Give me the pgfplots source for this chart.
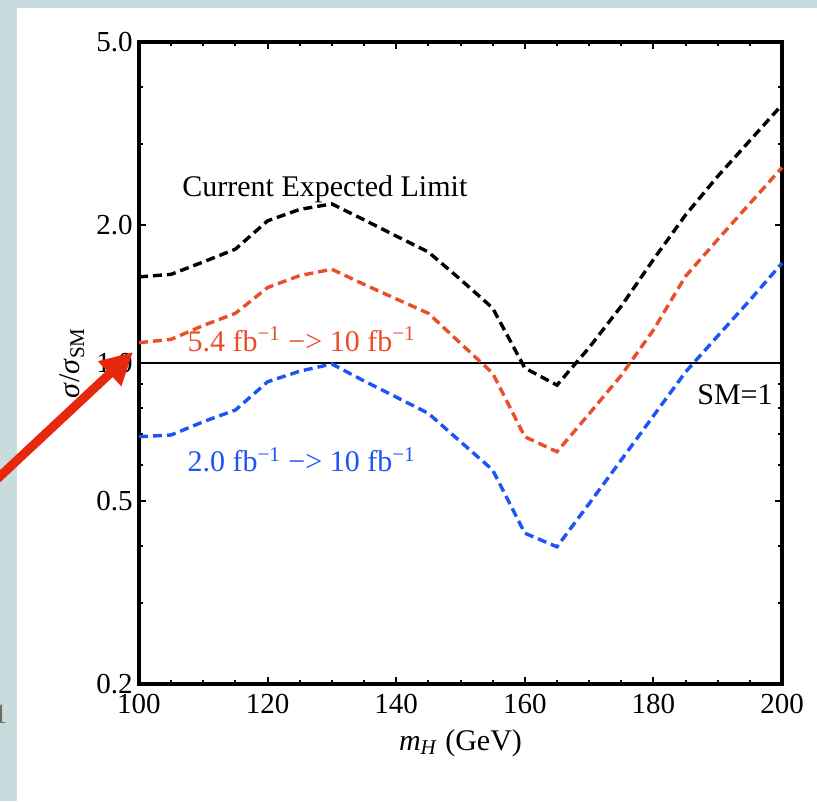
\documentclass[border=0pt]{standalone}
\usepackage{fontspec}
\setmainfont{Liberation Serif}
\usepackage{pgfplots}
\pgfplotsset{compat=1.18}
\usetikzlibrary{arrows.meta}

\definecolor{bgteal}{RGB}{200,220,222}
\definecolor{limred}{RGB}{234,78,42}
\definecolor{limblue}{RGB}{28,84,247}
\definecolor{arrowred}{RGB}{230,40,12}
\definecolor{slidegray}{RGB}{110,110,100}

\begin{document}
\begin{tikzpicture}
% slide background and white panel (1px = 0.5pt)
\fill[bgteal] (0,0) rectangle (408.5pt,-400.5pt);
\useasboundingbox (0,0) rectangle (408.5pt,-400.5pt);
\fill[white] (8.5pt,-4pt) rectangle (408.5pt,-400.5pt);
\node[anchor=east, text=slidegray, font=\fontsize{14}{14}\selectfont, inner sep=0pt] at (4pt,-357pt) {1};

\begin{axis}[
    at={(69.5pt,-342pt)}, anchor=south west,
    scale only axis, width=321.5pt, height=321pt,
    xmin=100, xmax=200,
    ymode=log, ymin=0.2, ymax=5,
    axis line style={line width=1.9pt},
    every tick/.style={black, line width=1pt},
    tick align=inside,
    major tick length=3.6pt, minor tick length=2.2pt,
    xtick={100,120,140,160,180,200},
    xticklabels={100,120,140,160,180,200},
    minor xtick={105,110,115,125,130,135,145,150,155,165,170,175,185,190,195},
    ytick={0.2,0.5,1,2,5},
    yticklabels={0.2,0.5,1.0,2.0,5.0},
    minor ytick={0.3,0.4,0.6,0.7,0.8,0.9,3,4},
    tick label style={font=\fontsize{14.5}{14.5}\selectfont, inner sep=0pt},
    xticklabel style={yshift=-5pt},
    yticklabel style={xshift=-3pt},
    xlabel={\textit{m}\textsubscript{\textit{H}} (GeV)},
    ylabel={\textit{σ}/\textit{σ}\textsubscript{SM}},
    label style={font=\fontsize{15}{15}\selectfont},
    xlabel style={at={(axis description cs:0.5,-0.092)}, anchor=center},
    ylabel style={at={(axis description cs:-0.104,0.5)}, anchor=center},
    clip=false,
]
% SM = 1
\addplot[black, line width=1.4pt] coordinates {(100,1) (200,1)};

% current expected limit
\addplot[black, line width=1.7pt, dash pattern=on 4.5pt off 2.5pt] coordinates {
    (100,1.54) (105,1.56) (110,1.66) (115,1.77) (120,2.04) (125,2.16) (130,2.22)
    (135,2.05) (140,1.89) (145,1.745) (150,1.52) (155,1.317) (160,0.975) (165,0.895)
    (170,1.08) (175,1.33) (180,1.68) (185,2.10) (190,2.55) (195,3.05) (200,3.65)
};
% 5.4 fb-1 -> 10 fb-1
\addplot[limred, line width=1.7pt, dash pattern=on 4.5pt off 2.5pt] coordinates {
    (100,1.107) (105,1.126) (110,1.207) (115,1.283) (120,1.46) (125,1.55) (130,1.60)
    (135,1.483) (140,1.379) (145,1.283) (150,1.104) (155,0.95) (160,0.691) (165,0.641)
    (170,0.775) (175,0.94) (180,1.18) (185,1.545) (190,1.857) (195,2.225) (200,2.665)
};
% 2.0 fb-1 -> 10 fb-1
\addplot[limblue, line width=1.7pt, dash pattern=on 4.5pt off 2.5pt] coordinates {
    (100,0.691) (105,0.697) (110,0.745) (115,0.79) (120,0.91) (125,0.96) (130,0.995)
    (135,0.914) (140,0.843) (145,0.777) (150,0.674) (155,0.585) (160,0.426) (165,0.398)
    (170,0.494) (175,0.615) (180,0.767) (185,0.956) (190,1.145) (195,1.37) (200,1.65)
};

\node[font=\fontsize{15}{15}\selectfont, anchor=center] at (rel axis cs:0.289,0.771) {Current Expected Limit};
\node[font=\fontsize{15}{15}\selectfont, text=limred, anchor=west, inner sep=0pt] at (rel axis cs:0.075,0.537)
    {5.4 fb\textsuperscript{−1} −> 10 fb\textsuperscript{−1}};
\node[font=\fontsize{15}{15}\selectfont, text=limblue, anchor=west, inner sep=0pt] at (rel axis cs:0.075,0.349)
    {2.0 fb\textsuperscript{−1} −> 10 fb\textsuperscript{−1}};
\node[font=\fontsize{15}{15}\selectfont, anchor=east, inner sep=0pt] at (rel axis cs:0.986,0.450) {SM=1};
\end{axis}

% slide arrow pointing at 1.0
\draw[arrowred, line width=4.5pt, -{Triangle[length=16pt,width=16pt]}] (-2pt,-240pt) -- (66.5pt,-176pt);
\end{tikzpicture}
\end{document}
